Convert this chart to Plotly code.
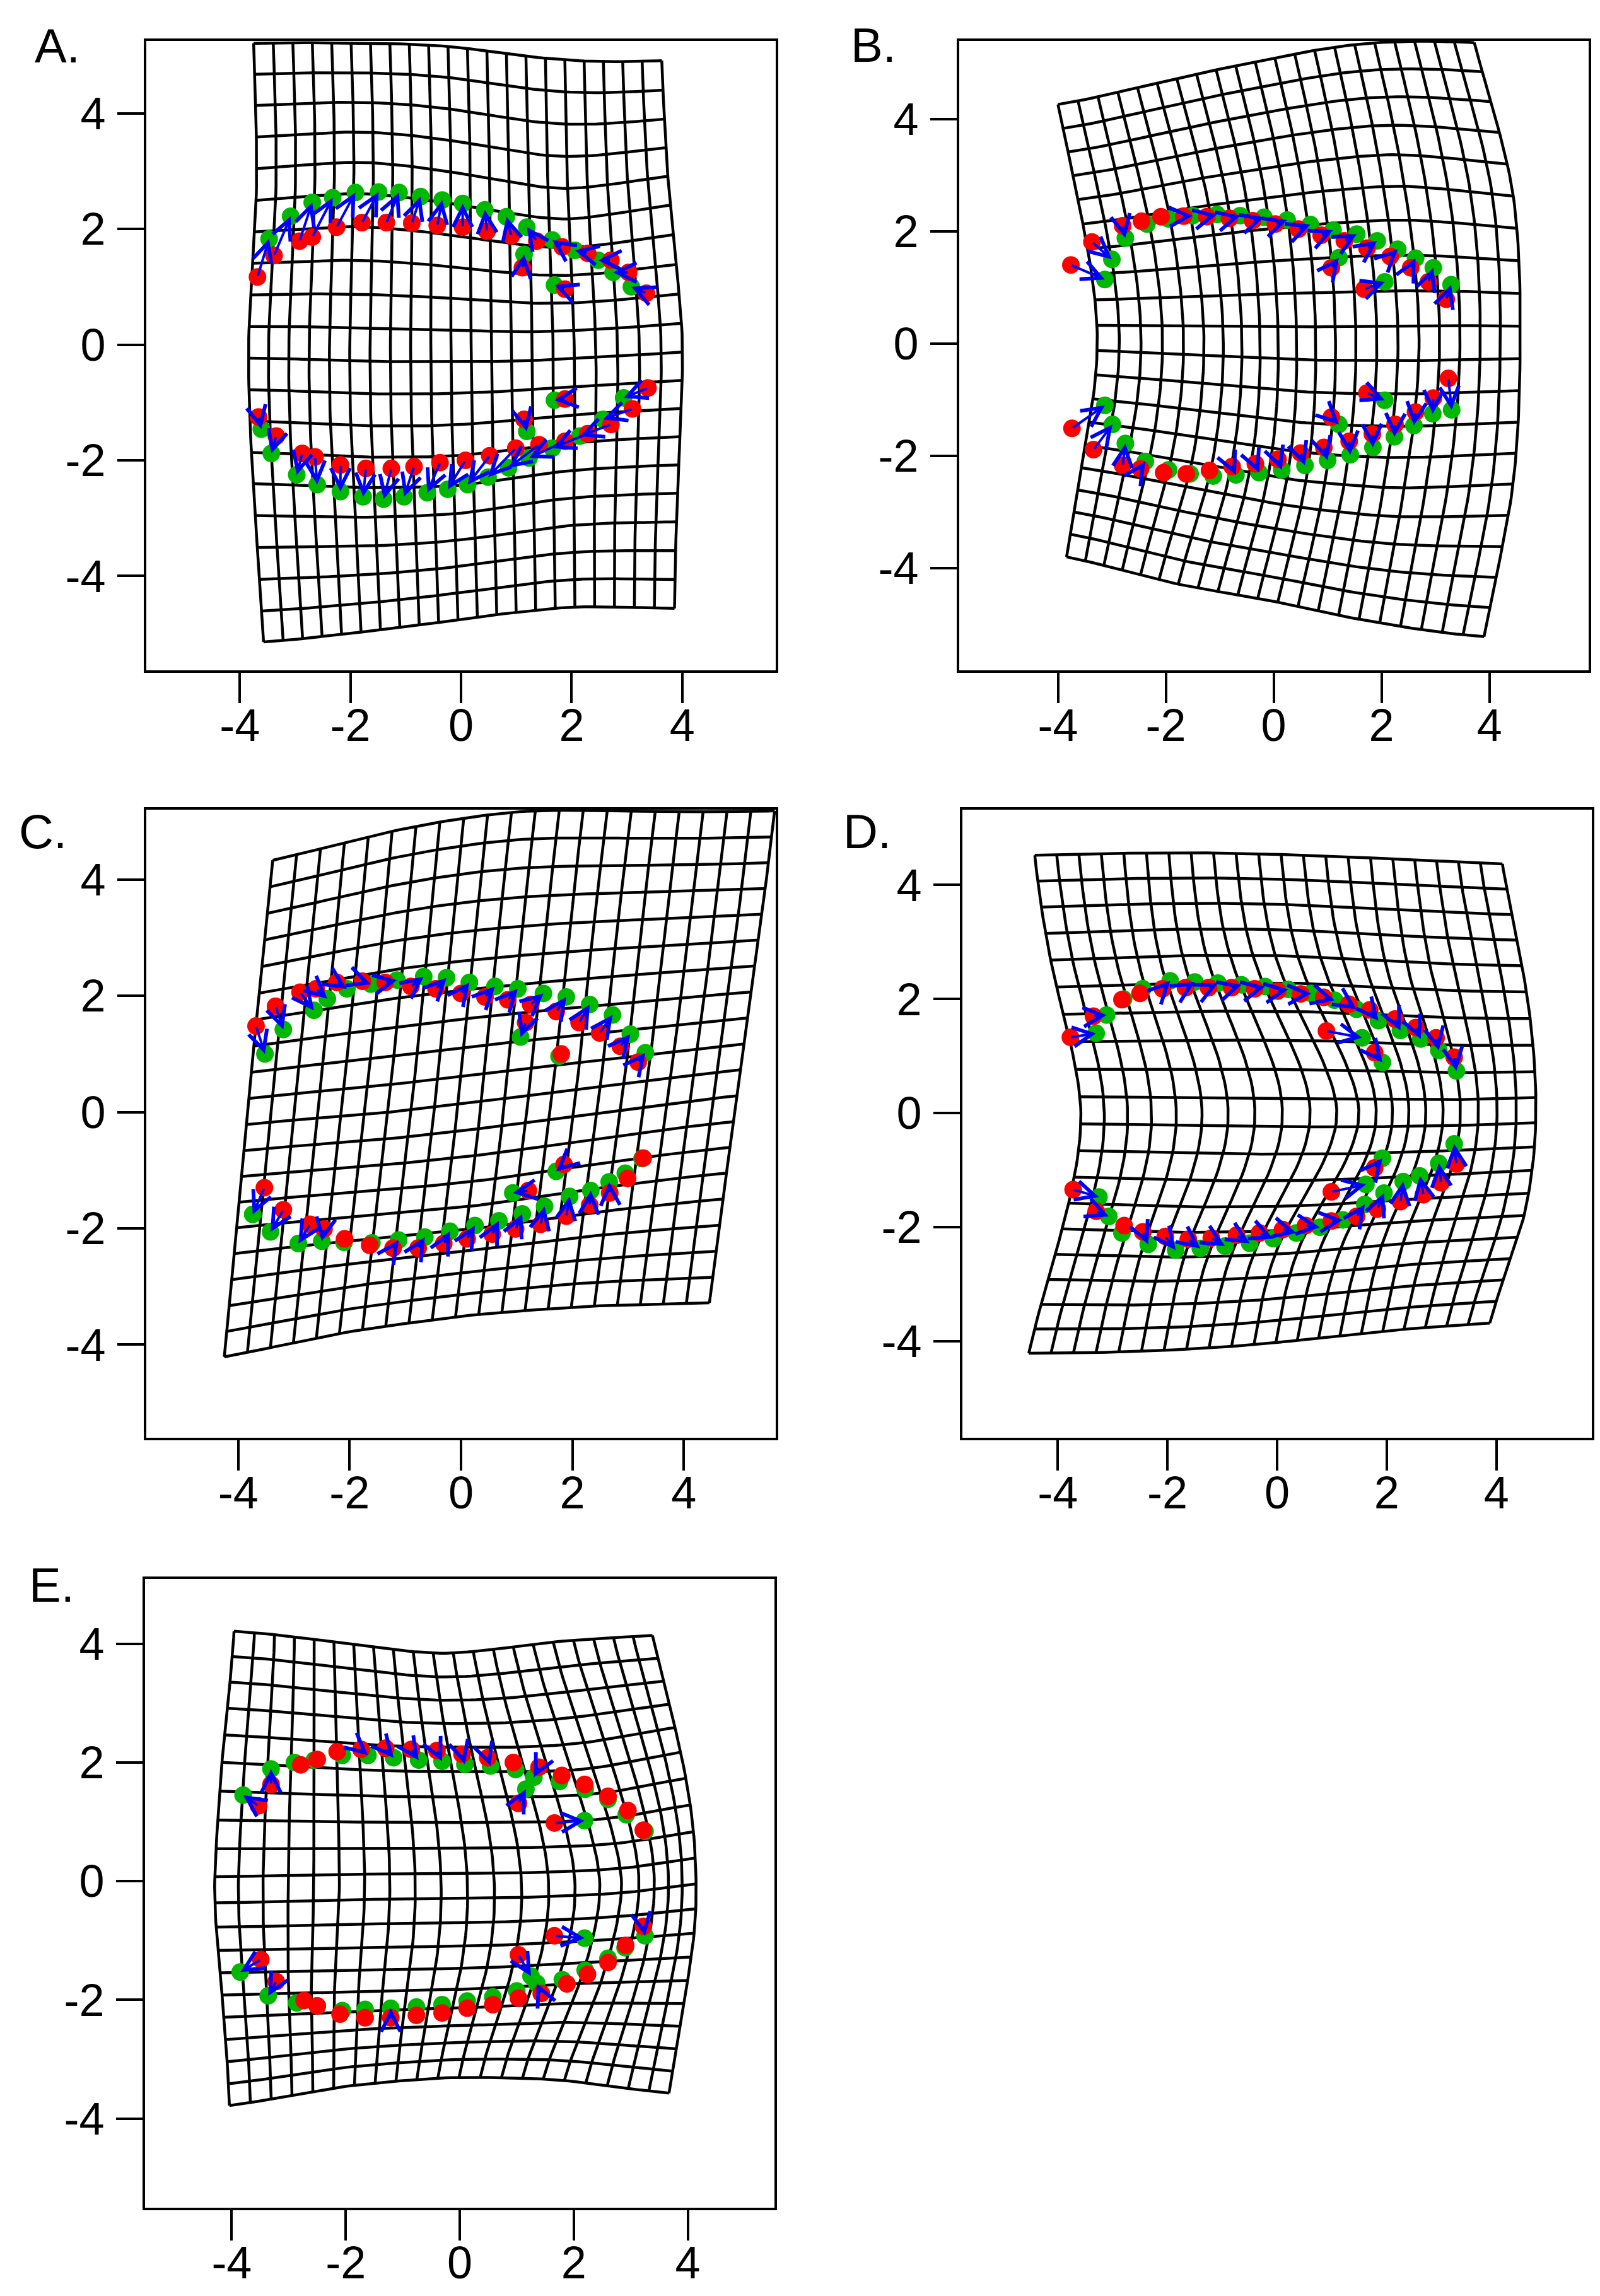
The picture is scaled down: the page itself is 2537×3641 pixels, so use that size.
import numpy as np
import plotly.graph_objects as go

# ---------------- data ----------------
TICKS = [-4, -2, 0, 2, 4]
TICK_TEXT = ["-4", "-2", "0", "2", "4"]
PANEL_LABELS = ["A.", "B.", "C.", "D.", "E."]

# deformation-grid control nodes (rows bottom->top, 5 nodes left->right)
A_grid = [
    [(-3.57, -5.14), (-1.72, -4.96), (0.12, -4.73), (1.97, -4.54), (3.86, -4.56)],
    [(-3.75, -2.54), (-1.85, -2.60), (0.05, -2.55), (1.95, -2.30), (3.93, -2.20)],
    [(-3.84, 0.04), (-1.92, 0.00), (0.00, -0.02), (1.95, 0.00), (4.00, 0.12)],
    [(-3.70, 2.63), (-1.85, 2.75), (0.00, 2.55), (1.85, 2.30), (3.77, 2.54)],
    [(-3.75, 5.21), (-1.90, 5.21), (-0.06, 5.14), (1.79, 4.93), (3.63, 4.91)],
]
B_grid = [
    [(-3.84, -3.80), (-2.04, -4.23), (-0.11, -4.57), (1.87, -4.96), (3.90, -5.22)],
    [(-3.51, -1.91), (-1.45, -2.25), (0.40, -2.55), (2.30, -2.70), (4.42, -2.64)],
    [(-3.27, 0.10), (-1.20, 0.05), (0.60, 0.00), (2.60, 0.00), (4.57, 0.02)],
    [(-3.56, 2.24), (-1.50, 2.55), (0.35, 2.80), (2.30, 2.95), (4.42, 2.77)],
    [(-4.00, 4.26), (-2.07, 4.66), (-0.16, 5.05), (1.78, 5.35), (3.72, 5.36)],
]
C_grid = [
    [(-4.25, -4.21), (-2.08, -3.79), (0.11, -3.50), (2.29, -3.34), (4.46, -3.28)],
    [(-4.04, -2.10), (-1.85, -1.90), (0.35, -1.70), (2.55, -1.40), (4.75, -1.16)],
    [(-3.84, 0.01), (-1.60, 0.20), (0.60, 0.45), (2.85, 0.70), (5.05, 0.95)],
    [(-3.61, 2.16), (-1.35, 2.55), (0.85, 2.80), (3.10, 2.95), (5.36, 3.07)],
    [(-3.38, 4.33), (-1.13, 4.85), (1.12, 5.17), (3.38, 5.17), (5.63, 5.18)],
]
D_grid = [
    [(-4.53, -4.21), (-2.37, -4.17), (-0.22, -4.04), (1.83, -3.83), (3.88, -3.68)],
    [(-3.95, -2.14), (-1.90, -2.20), (0.30, -2.15), (2.30, -2.00), (4.48, -1.89)],
    [(-3.58, 0.05), (-1.25, 0.02), (1.31, 0.00), (2.95, 0.00), (4.72, 0.05)],
    [(-4.05, 2.33), (-1.95, 2.40), (0.30, 2.40), (2.35, 2.30), (4.53, 2.24)],
    [(-4.42, 4.52), (-2.28, 4.56), (-0.13, 4.54), (2.01, 4.46), (4.11, 4.37)],
]
E_grid = [
    [(-4.04, -3.78), (-2.12, -3.47), (-0.20, -3.31), (1.74, -3.35), (3.67, -3.57)],
    [(-4.16, -2.01), (-2.10, -1.95), (0.15, -1.90), (2.35, -1.80), (3.98, -1.77)],
    [(-4.30, -0.15), (-2.00, -0.10), (0.37, -0.08), (2.75, 0.00), (4.14, 0.17)],
    [(-4.16, 2.12), (-2.05, 2.00), (0.05, 1.95), (2.20, 2.00), (3.85, 2.28)],
    [(-3.96, 4.21), (-2.12, 4.02), (-0.29, 3.84), (1.55, 4.02), (3.38, 4.14)],
]
GRID_COLS = 22
GRID_ROWS = 20

# landmarks: red (first configuration) and green (second), paired by index
A_red_x = [-3.68, -3.38, -2.92, -2.69, -2.25, -1.79, -1.35, -0.89, -0.43, 0.03, 0.47, 0.91, 1.37, 1.83, 2.29, 2.71, 3.03, 3.35, 1.11, 1.88,
           -3.66, -3.34, -2.87, -2.64, -2.18, -1.72, -1.26, -0.85, -0.38, 0.08, 0.52, 0.99, 1.41, 1.88, 2.29, 2.71, 3.10, 3.38, 1.14, 1.88]
A_red_y = [1.17, 1.54, 1.79, 1.86, 2.03, 2.11, 2.11, 2.10, 2.06, 2.03, 1.96, 1.88, 1.79, 1.69, 1.58, 1.46, 1.25, 0.89, 1.33, 0.96,
           -1.25, -1.58, -1.88, -1.94, -2.08, -2.14, -2.14, -2.11, -2.04, -2.00, -1.92, -1.79, -1.73, -1.67, -1.54, -1.38, -1.11, -0.75, -1.29, -0.94]
A_green_x = [-3.47, -3.08, -2.69, -2.32, -1.91, -1.49, -1.12, -0.73, -0.34, 0.03, 0.43, 0.82, 1.19, 1.65, 2.06, 2.48, 2.75, 3.08, 1.14, 1.69,
             -3.61, -3.43, -2.97, -2.60, -2.18, -1.77, -1.40, -1.03, -0.61, -0.24, 0.12, 0.49, 0.86, 1.23, 1.65, 2.15, 2.57, 2.94, 1.19, 1.69]
A_green_y = [1.83, 2.22, 2.46, 2.54, 2.63, 2.64, 2.63, 2.56, 2.50, 2.44, 2.33, 2.21, 2.03, 1.81, 1.63, 1.46, 1.25, 1.00, 1.56, 1.03,
             -1.46, -1.88, -2.25, -2.42, -2.54, -2.63, -2.67, -2.63, -2.56, -2.50, -2.42, -2.29, -2.13, -1.96, -1.79, -1.58, -1.29, -0.92, -1.50, -0.96]

B_red_x = [-3.76, -3.37, -2.80, -2.45, -2.09, -1.67, -1.24, -0.82, -0.39, 0.03, 0.46, 0.88, 1.31, 1.73, 2.16, 2.54, 2.87, 3.20, 1.07, 1.68,
           -3.74, -3.34, -2.80, -2.47, -2.04, -1.62, -1.19, -0.77, -0.34, 0.08, 0.50, 0.93, 1.40, 1.83, 2.25, 2.63, 2.96, 3.24, 1.07, 1.73]
B_red_y = [1.40, 1.81, 2.10, 2.18, 2.26, 2.27, 2.26, 2.23, 2.19, 2.13, 2.04, 1.93, 1.83, 1.70, 1.55, 1.35, 1.10, 0.79, 1.35, 0.97,
           -1.51, -1.89, -2.17, -2.23, -2.30, -2.32, -2.26, -2.19, -2.14, -2.06, -1.95, -1.85, -1.74, -1.61, -1.44, -1.22, -0.97, -0.62, -1.31, -0.88]
B_green_x = [-3.13, -3.00, -2.75, -2.35, -1.95, -1.50, -1.05, -0.62, -0.18, 0.25, 0.68, 1.10, 1.54, 1.92, 2.30, 2.63, 2.96, 3.29, 1.21, 2.06,
             -3.13, -2.99, -2.75, -2.38, -1.95, -1.55, -1.12, -0.70, -0.27, 0.15, 0.58, 1.00, 1.42, 1.84, 2.24, 2.60, 2.95, 3.30, 1.21, 2.06]
B_green_y = [1.14, 1.50, 1.88, 2.13, 2.22, 2.28, 2.30, 2.28, 2.25, 2.20, 2.12, 2.02, 1.95, 1.83, 1.68, 1.52, 1.35, 1.05, 1.53, 1.10,
             -1.10, -1.44, -1.78, -2.10, -2.25, -2.32, -2.36, -2.34, -2.30, -2.25, -2.17, -2.08, -1.98, -1.85, -1.66, -1.46, -1.25, -1.18, -1.44, -1.01]

C_red_x = [-3.68, -3.33, -2.89, -2.60, -2.23, -1.77, -1.36, -0.90, -0.45, 0.00, 0.43, 0.84, 1.25, 1.71, 2.12, 2.49, 2.86, 3.18, 1.16, 1.80,
           -3.53, -3.19, -2.71, -2.46, -2.09, -1.64, -1.22, -0.77, -0.31, 0.11, 0.56, 0.98, 1.43, 1.89, 2.31, 2.67, 2.99, 3.27, 1.21, 1.85]
C_red_y = [1.48, 1.82, 2.06, 2.12, 2.23, 2.25, 2.23, 2.16, 2.12, 2.04, 1.98, 1.93, 1.85, 1.73, 1.54, 1.36, 1.13, 0.86, 1.54, 1.00,
           -1.30, -1.68, -1.93, -2.01, -2.18, -2.29, -2.34, -2.34, -2.26, -2.18, -2.10, -2.01, -1.93, -1.79, -1.60, -1.39, -1.14, -0.79, -1.35, -0.90]
C_green_x = [-3.52, -3.19, -2.64, -2.40, -2.05, -1.62, -1.15, -0.67, -0.26, 0.15, 0.61, 1.02, 1.48, 1.89, 2.31, 2.72, 3.04, 3.31, 1.07, 1.76,
             -3.74, -3.42, -2.92, -2.50, -2.10, -1.60, -1.12, -0.65, -0.20, 0.25, 0.68, 1.10, 1.50, 1.95, 2.33, 2.66, 2.95, 3.25, 0.93, 1.71]
C_green_y = [1.00, 1.42, 1.75, 1.95, 2.12, 2.20, 2.27, 2.33, 2.31, 2.23, 2.16, 2.12, 2.04, 1.98, 1.85, 1.67, 1.34, 1.02, 1.29, 0.96,
             -1.76, -2.06, -2.26, -2.22, -2.24, -2.25, -2.20, -2.15, -2.05, -1.95, -1.87, -1.75, -1.62, -1.45, -1.35, -1.20, -1.05, -0.80, -1.39, -1.02]

D_red_x = [-3.77, -3.35, -2.83, -2.50, -2.09, -1.67, -1.25, -0.83, -0.41, 0.01, 0.43, 0.85, 1.31, 1.69, 2.15, 2.53, 2.90, 3.23, 0.90, 1.78,
           -3.72, -3.30, -2.79, -2.45, -2.04, -1.62, -1.20, -0.74, -0.32, 0.10, 0.52, 0.99, 1.45, 1.83, 2.25, 2.67, 2.99, 3.27, 0.99, 1.78]
D_red_y = [1.33, 1.70, 1.99, 2.10, 2.18, 2.20, 2.20, 2.20, 2.18, 2.14, 2.09, 2.03, 1.91, 1.81, 1.65, 1.50, 1.32, 0.98, 1.44, 1.06,
           -1.34, -1.72, -1.97, -2.08, -2.16, -2.21, -2.19, -2.14, -2.10, -2.04, -1.97, -1.89, -1.81, -1.68, -1.55, -1.43, -1.22, -0.89, -1.38, -0.96]
D_green_x = [-3.30, -3.11, -2.80, -2.45, -1.95, -1.50, -1.08, -0.65, -0.22, 0.20, 0.62, 1.05, 1.45, 1.85, 2.25, 2.62, 2.95, 3.27, 1.55, 1.92,
             -3.25, -3.07, -2.83, -2.35, -1.85, -1.40, -0.95, -0.50, -0.07, 0.35, 0.78, 1.20, 1.60, 1.95, 2.30, 2.60, 2.95, 3.23, 1.62, 1.92]
D_green_y = [1.40, 1.72, 2.00, 2.18, 2.32, 2.30, 2.28, 2.25, 2.22, 2.17, 2.10, 1.98, 1.82, 1.62, 1.45, 1.30, 1.10, 0.74, 1.32, 0.89,
             -1.47, -1.81, -2.10, -2.30, -2.40, -2.37, -2.33, -2.28, -2.20, -2.10, -2.00, -1.87, -1.60, -1.40, -1.20, -1.10, -0.88, -0.54, -1.25, -0.79]

E_red_x = [-3.53, -3.31, -2.79, -2.50, -2.15, -1.73, -1.30, -0.85, -0.40, 0.04, 0.49, 0.94, 1.39, 1.79, 2.19, 2.60, 2.95, 3.22, 1.03, 1.66,
           -3.49, -3.22, -2.73, -2.50, -2.10, -1.66, -1.21, -0.76, -0.31, 0.13, 0.58, 1.03, 1.43, 1.88, 2.24, 2.60, 2.91, 3.22, 1.03, 1.66]
E_red_y = [1.27, 1.63, 1.96, 2.05, 2.18, 2.22, 2.24, 2.22, 2.20, 2.14, 2.08, 2.00, 1.92, 1.78, 1.63, 1.43, 1.19, 0.86, 1.31, 0.98,
           -1.32, -1.69, -2.01, -2.10, -2.24, -2.30, -2.30, -2.26, -2.22, -2.14, -2.08, -1.97, -1.89, -1.73, -1.57, -1.37, -1.08, -0.76, -1.24, -0.92]
E_green_x = [-3.80, -3.31, -2.90, -2.55, -2.06, -1.61, -1.16, -0.72, -0.31, 0.09, 0.54, 0.98, 1.30, 1.75, 2.20, 2.60, 2.92, 3.25, 1.16, 2.19,
             -3.85, -3.36, -2.86, -2.50, -2.06, -1.66, -1.21, -0.76, -0.31, 0.13, 0.58, 1.00, 1.35, 1.80, 2.20, 2.60, 2.90, 3.25, 1.25, 2.19]
E_green_y = [1.45, 1.89, 2.00, 2.04, 2.12, 2.12, 2.08, 2.04, 2.02, 1.97, 1.94, 1.88, 1.75, 1.68, 1.55, 1.38, 1.12, 0.84, 1.55, 1.02,
             -1.53, -1.93, -2.05, -2.10, -2.18, -2.16, -2.14, -2.12, -2.08, -2.02, -1.95, -1.85, -1.72, -1.66, -1.50, -1.30, -1.12, -0.92, -1.60, -0.96]

# ---------------- layout of panels (pixel boxes) ----------------
W, H = 2537, 3641
PANELS = [
    dict(grid=A_grid, rx=A_red_x, ry=A_red_y, gx=A_green_x, gy=A_green_y,
         box=(224, 57, 1222, 1055), xr=(-5.69, 5.69), yr=(-5.63, 5.25), lab=(45, 65)),
    dict(grid=B_grid, rx=B_red_x, ry=B_red_y, gx=B_green_x, gy=B_green_y,
         box=(1513, 57, 2511, 1055), xr=(-5.83, 5.84), yr=(-5.82, 5.39), lab=(1339, 63)),
    dict(grid=C_grid, rx=C_red_x, ry=C_red_y, gx=C_green_x, gy=C_green_y,
         box=(224, 1276, 1222, 2272), xr=(-5.65, 5.65), yr=(-5.60, 5.20), lab=(20, 1310)),
    dict(grid=D_grid, rx=D_red_x, ry=D_red_y, gx=D_green_x, gy=D_green_y,
         box=(1518, 1276, 2516, 2272), xr=(-5.74, 5.74), yr=(-5.69, 5.32), lab=(1327, 1310)),
    dict(grid=E_grid, rx=E_red_x, ry=E_red_y, gx=E_green_x, gy=E_green_y,
         box=(222, 2496, 1220, 3493), xr=(-5.52, 5.52), yr=(-5.50, 5.09), lab=(36, 2505)),
]

RED = "#FF0000"
GREEN = "#00B800"
BLUE = "#0000FF"
FONT = "Liberation Sans, Arial, sans-serif"


def tps_surface(grid):
    """Smooth surface through the control nodes (thin-plate spline in grid-index space)."""
    g = np.array(grid, dtype=float)  # rows x cols x 2
    nr, nc = g.shape[0], g.shape[1]
    uu, vv = np.meshgrid(np.linspace(0, 1, nc), np.linspace(0, 1, nr))
    P = np.column_stack([uu.ravel(), vv.ravel()])
    n = len(P)

    def phi(r):
        with np.errstate(divide="ignore", invalid="ignore"):
            out = r * r * np.log(r)
        return np.nan_to_num(out)

    K = phi(np.sqrt(((P[:, None, :] - P[None, :, :]) ** 2).sum(-1)))
    Q = np.column_stack([np.ones(n), P])
    L = np.zeros((n + 3, n + 3))
    L[:n, :n] = K
    L[:n, n:] = Q
    L[n:, :n] = Q.T
    rhs = np.zeros((n + 3, 2))
    rhs[:n] = g.reshape(-1, 2)
    coef = np.linalg.solve(L, rhs)

    def ev(u, v):
        pts = np.column_stack([u, v])
        Kp = phi(np.sqrt(((pts[:, None, :] - P[None, :, :]) ** 2).sum(-1)))
        Qp = np.column_stack([np.ones(len(pts)), pts])
        return Kp @ coef[:n] + Qp @ coef[n:]

    return ev


fig = go.Figure()
layout = dict(width=W, height=H, margin=dict(l=0, r=0, t=0, b=0),
              paper_bgcolor="white", plot_bgcolor="white", showlegend=False)
annotations = []

for i, p in enumerate(PANELS):
    s = "" if i == 0 else str(i + 1)
    xa, ya = "x" + s, "y" + s
    x0, y0, x1, y1 = p["box"]
    layout["xaxis" + s] = dict(
        domain=[x0 / W, x1 / W], range=list(p["xr"]), anchor=ya,
        showline=True, mirror=True, linecolor="black", linewidth=4,
        ticks="outside", ticklen=48, tickwidth=4, tickcolor="black",
        tickvals=TICKS, ticktext=TICK_TEXT, ticklabelstandoff=-26,
        tickfont=dict(family=FONT, size=72, color="black"),
        showgrid=False, zeroline=False, fixedrange=True)
    layout["yaxis" + s] = dict(
        domain=[1 - y1 / H, 1 - y0 / H], range=list(p["yr"]), anchor=xa,
        showline=True, mirror=True, linecolor="black", linewidth=4,
        ticks="outside", ticklen=42, tickwidth=4, tickcolor="black",
        tickvals=TICKS, ticktext=TICK_TEXT, ticklabelstandoff=4,
        tickfont=dict(family=FONT, size=72, color="black"),
        showgrid=False, zeroline=False, fixedrange=True)

    # deformation grid
    ev = tps_surface(p["grid"])
    lx, ly = [], []
    t = np.linspace(0, 1, 80)
    for c in range(GRID_COLS):
        xy = ev(np.full_like(t, c / (GRID_COLS - 1)), t)
        lx += list(xy[:, 0]) + [None]
        ly += list(xy[:, 1]) + [None]
    for r in range(GRID_ROWS):
        xy = ev(t, np.full_like(t, r / (GRID_ROWS - 1)))
        lx += list(xy[:, 0]) + [None]
        ly += list(xy[:, 1]) + [None]
    fig.add_trace(go.Scatter(x=lx, y=ly, mode="lines", xaxis=xa, yaxis=ya,
                             line=dict(color="black", width=4.5), hoverinfo="skip"))

    # landmarks
    fig.add_trace(go.Scatter(x=p["gx"], y=p["gy"], mode="markers", xaxis=xa, yaxis=ya,
                             marker=dict(color=GREEN, size=28, line=dict(width=0))))
    fig.add_trace(go.Scatter(x=p["rx"], y=p["ry"], mode="markers", xaxis=xa, yaxis=ya,
                             marker=dict(color=RED, size=28, line=dict(width=0))))

    # vectors red -> green
    for xr_, yr_, xg_, yg_ in zip(p["rx"], p["ry"], p["gx"], p["gy"]):
        annotations.append(dict(x=xg_, y=yg_, ax=xr_, ay=yr_, xref=xa, yref=ya,
                                axref=xa, ayref=ya, text="", showarrow=True,
                                arrowhead=5, arrowsize=1.5, arrowwidth=4,
                                arrowcolor=BLUE, standoff=0, startstandoff=0))

    # panel label
    lxp, lyp = p["lab"]
    annotations.append(dict(x=lxp / W, y=1 - lyp / H, xref="paper", yref="paper",
                            xanchor="left", yanchor="middle", showarrow=False,
                            text=PANEL_LABELS[i],
                            font=dict(family=FONT, size=76, color="black")))

layout["annotations"] = annotations
fig.update_layout(**layout)
fig.write_html("out.html")
